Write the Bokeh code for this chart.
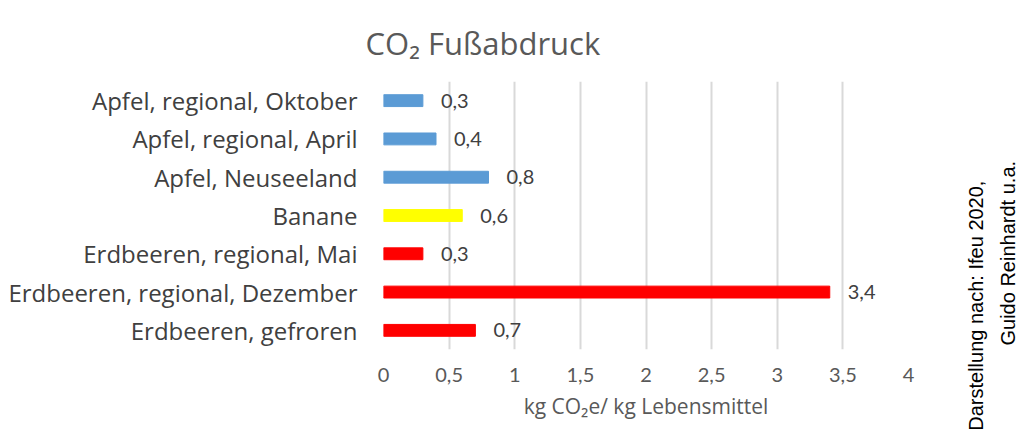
from bokeh.plotting import figure
from bokeh.models import (Range1d, ColumnDataSource, FixedTicker,
                          CustomJSTickFormatter, Title, LinearAxis)
from bokeh.core.properties import value
from bokeh.embed import file_html
from bokeh.resources import INLINE
import math

categories = ["Apfel, regional, Oktober", "Apfel, regional, April", "Apfel, Neuseeland",
              "Banane", "Erdbeeren, regional, Mai", "Erdbeeren, regional, Dezember",
              "Erdbeeren, gefroren"]
values = [0.3, 0.4, 0.8, 0.6, 0.3, 3.4, 0.7]
colors = ["#5B9BD5", "#5B9BD5", "#5B9BD5", "#FFFF00", "#FF0000", "#FF0000", "#FF0000"]
x_ticks = [0, 0.5, 1, 1.5, 2, 2.5, 3, 3.5, 4]
title_text = "CO₂ Fußabdruck"
x_label = "kg CO₂e/ kg Lebensmittel"
credit1 = "© eigene Darstellung nach: Ifeu 2020,"
credit2 = "Guido Reinhardt u.a."

n = len(categories)
pos = list(range(n))[::-1]  # first category on top
labels = [("%g" % v).replace(".", ",") for v in values]
src = ColumnDataSource(dict(pos=pos, val=values, color=colors, lab=labels))

W, H = 1032, 430
FL, FR, FT, FB = 383, 910, 81, 349  # frame edges in page px
p = figure(width=W, height=H, output_backend="svg", toolbar_location=None,
           y_range=Range1d(-0.5, n - 0.5), x_range=Range1d(0, 4),
           min_border_left=FL, min_border_right=W - FR, min_border_top=FT, min_border_bottom=H - FB)
p.outline_line_color = None
p.background_fill_color = "white"
p.border_fill_color = "white"

p.hbar(y="pos", right="val", left=0, height=0.31, color="color", source=src)
p.text(x="val", y="pos", text="lab", source=src, x_offset=18, text_align="left",
       text_baseline="middle", text_font=value("Lato"), text_font_size="20px", text_color="#404040")

# x axis
xa = p.xaxis[0]
xa.ticker = FixedTicker(ticks=x_ticks)
xa.formatter = CustomJSTickFormatter(code="return tick.toString().replace('.', ',');")
xa.axis_line_color = None
xa.major_tick_line_color = None
xa.minor_tick_line_color = None
xa.major_tick_in = 0
xa.major_tick_out = 0
xa.major_label_standoff = 18
xa.major_label_text_font = "Lato"
xa.major_label_text_font_size = "20px"
xa.major_label_text_color = "#595959"
xa.axis_label = x_label
xa.axis_label_text_font = "Open Sans"
xa.axis_label_text_font_style = "normal"
xa.axis_label_text_font_size = "21px"
xa.axis_label_text_color = "#595959"
xa.axis_label_standoff = 7

# y axis with category names
ya = p.yaxis[0]
ya.ticker = FixedTicker(ticks=pos)
ya.major_label_overrides = {pp: c for pp, c in zip(pos, categories)}
ya.axis_line_color = None
ya.major_tick_line_color = None
ya.minor_tick_line_color = None
ya.major_tick_in = 0
ya.major_tick_out = 0
ya.major_label_standoff = 26
ya.major_label_text_font = "Open Sans"
ya.major_label_text_font_size = "24px"
ya.major_label_text_color = "#404040"

p.xgrid.grid_line_color = "#D9D9D9"
p.xgrid.grid_line_width = 2
p.xgrid.ticker = FixedTicker(ticks=x_ticks)
p.ygrid.grid_line_color = None

title_kw = dict(text=title_text, align="left", offset=-18,
                text_font="Open Sans", text_font_size="31px", text_font_style="normal",
                text_color="#595959")
if "standoff" in Title.properties():
    title_kw["standoff"] = 35
p.add_layout(Title(**title_kw), "above")

# source note: rotated labels of two right-hand axes on a page-pixel range (y up from bottom)
p.extra_y_ranges = {"page": Range1d(start=H - FB, end=H - FT)}
for txt, tick, standoff in [(credit1, 274, 68), (credit2, 85, 6)]:
    ax = LinearAxis(y_range_name="page", ticker=FixedTicker(ticks=[tick]),
                    major_label_overrides={tick: txt})
    ax.axis_line_color = None
    ax.major_tick_line_color = None
    ax.minor_tick_line_color = None
    ax.major_tick_in = 0
    ax.major_tick_out = 0
    ax.major_label_orientation = math.pi / 2
    ax.major_label_standoff = standoff
    ax.major_label_text_font = "Liberation Sans"
    ax.major_label_text_font_size = "20px"
    ax.major_label_text_color = "#000000"
    p.add_layout(ax, "right")

open("out.html", "w").write(file_html(p, INLINE))
